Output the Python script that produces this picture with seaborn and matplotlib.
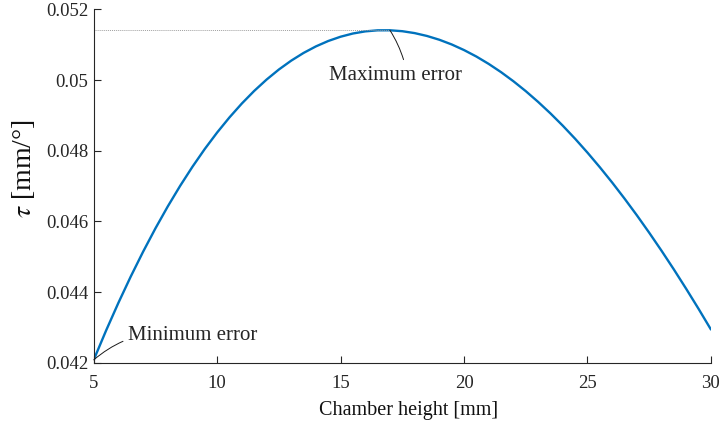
import numpy as np
import pandas as pd
import seaborn as sns
import matplotlib
matplotlib.use("Agg")
from matplotlib import pyplot as plt

# values, every 0.5 mm
chamber_height = [5.0, 5.5, 6.0, 6.5, 7.0, 7.5, 8.0, 8.5, 9.0, 9.5,
                  10.0, 10.5, 11.0, 11.5, 12.0, 12.5, 13.0, 13.5, 14.0, 14.5,
                  15.0, 15.5, 16.0, 16.5, 17.0, 17.5, 18.0, 18.5, 19.0, 19.5,
                  20.0, 20.5, 21.0, 21.5, 22.0, 22.5, 23.0, 23.5, 24.0, 24.5,
                  25.0, 25.5, 26.0, 26.5, 27.0, 27.5, 28.0, 28.5, 29.0, 29.5,
                  30.0]
tau = [0.042080, 0.042909, 0.043695, 0.044439, 0.045141, 0.045802,
       0.046423, 0.047004, 0.047546, 0.048050, 0.048515, 0.048943,
       0.049335, 0.049691, 0.050011, 0.050297, 0.050548, 0.050766,
       0.050951, 0.051104, 0.051225, 0.051316, 0.051376, 0.051406,
       0.051407, 0.051381, 0.051327, 0.051246, 0.051139, 0.051006,
       0.050847, 0.050664, 0.050455, 0.050222, 0.049965, 0.049685,
       0.049381, 0.049055, 0.048707, 0.048337, 0.047945, 0.047532,
       0.047099, 0.046645, 0.046172, 0.045679, 0.045168, 0.044638,
       0.044089, 0.043524, 0.042940]

x_ticks = [5, 10, 15, 20, 25, 30]
y_ticks = [0.042, 0.044, 0.046, 0.048, 0.050, 0.052]
y_tick_labels = ["0.042", "0.044", "0.046", "0.048", "0.05", "0.052"]

sns.set_theme(style="ticks")
plt.rcParams["font.family"] = ["Liberation Serif", "DejaVu Serif"]
plt.rcParams["mathtext.fontset"] = "stix"

df = pd.DataFrame({"h": chamber_height, "tau": tau})

fig = plt.figure(figsize=(7.21, 4.28), dpi=100)
ax = fig.add_axes([0.130, 0.1526, 0.856, 0.8256])

sns.lineplot(data=df, x="h", y="tau", color="#0072BD", linewidth=1.7, ax=ax)

i_max = int(np.argmax(tau))
x_max, y_max = chamber_height[i_max], tau[i_max]
ax.hlines(y_max, chamber_height[0], x_max, colors="#a0a0a0",
          linestyles=(0, (1, 1)), linewidth=0.7)

ax.set_xlim(5, 30)
ax.set_ylim(0.042, 0.052)
ax.set_xticks(x_ticks)
ax.set_xticklabels([str(t) for t in x_ticks])
ax.set_yticks(y_ticks)
ax.set_yticklabels(y_tick_labels)

sns.despine(ax=ax)
for s in ["left", "bottom"]:
    ax.spines[s].set_color("#262626")
    ax.spines[s].set_linewidth(0.8)
ax.tick_params(axis="both", direction="in", length=5, width=0.8,
               colors="#262626", labelsize=13.5)
ax.tick_params(axis="x", pad=9)
ax.tick_params(axis="y", pad=4)

ax.set_xlabel("Chamber height [mm]", fontsize=14.5, color="#111111")
ax.set_ylabel(r"$\tau$ [mm/°]", fontsize=20, color="#111111")
ax.xaxis.set_label_coords(0.51, -0.108)
ax.yaxis.set_label_coords(-0.092, 0.55)

ax.annotate("Maximum error", xy=(x_max, y_max), xytext=(17.24, 0.05014),
            ha="center", va="center", fontsize=15,
            arrowprops=dict(arrowstyle="-", color="k", lw=0.7,
                            relpos=(0.57, 1.0),
                            connectionstyle="arc3,rad=0.08",
                            shrinkA=2, shrinkB=0))
ax.annotate("Minimum error", xy=(chamber_height[0], tau[0]),
            xytext=(6.37, 0.04276), ha="left", va="center", fontsize=15,
            arrowprops=dict(arrowstyle="-", color="k", lw=0.7,
                            connectionstyle="arc3,rad=0.25",
                            shrinkA=1, shrinkB=0))

fig.savefig("out.png", dpi=100)
